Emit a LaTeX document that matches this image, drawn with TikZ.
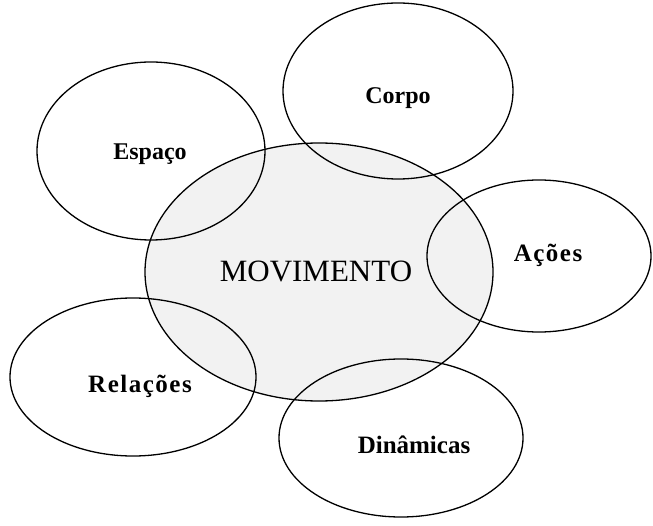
\documentclass[tikz,border=0pt]{standalone}
\usepackage{fontspec}
\setmainfont{Liberation Serif}
\begin{document}
\begin{tikzpicture}[x=1pt,y=-1pt,
  ring/.style={draw=black,line width=1.3pt},
  lbl/.style={anchor=base,font=\fontsize{24}{26}\selectfont\bfseries,inner sep=0pt},
  widelbl/.style={lbl,font=\fontsize{25}{27}\selectfont\bfseries\addfontfeature{LetterSpace=6}},
  mainlbl/.style={anchor=base,font=\fontsize{31}{34}\selectfont,inner sep=0pt}]
\useasboundingbox (0,0) rectangle (653,526);
\draw[ring,fill={rgb,255:red,242;green,242;blue,242}] (319,272) ellipse [x radius=174, y radius=129];
\draw[ring] (398,91) ellipse [x radius=115, y radius=88];
\draw[ring] (151,151) ellipse [x radius=114, y radius=89];
\draw[ring] (539,256) ellipse [x radius=112, y radius=76];
\draw[ring] (133,377) ellipse [x radius=123, y radius=79];
\draw[ring] (401,438) ellipse [x radius=122, y radius=79];
\node[mainlbl] (mov) at (316,282) {MOVIMENTO};
\node[lbl] (corpo) at (398,104) {Corpo};
\node[lbl] (espaco) at (150,160) {Espaço};
\node[widelbl] (acoes) at (548,262) {Ações};
\node[widelbl] (relacoes) at (140,392) {Relações};
\node[lbl,font=\fontsize{25}{27}\selectfont\bfseries] (dinamicas) at (414,453) {Dinâmicas};
\end{tikzpicture}
\end{document}
